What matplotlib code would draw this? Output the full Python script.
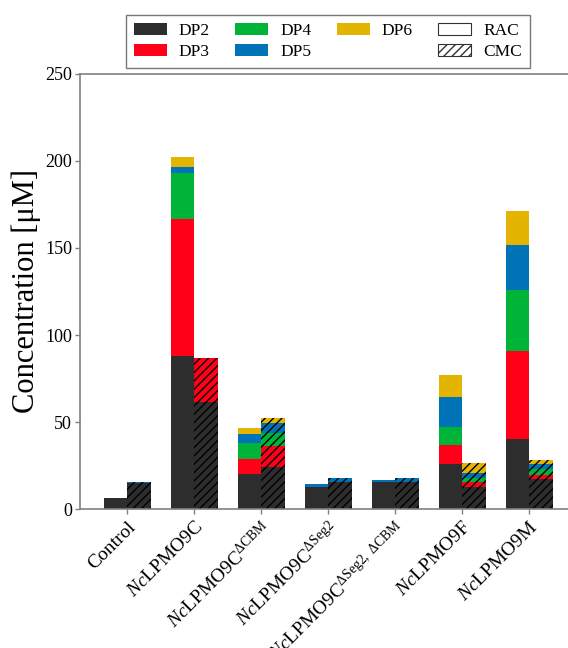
import matplotlib
matplotlib.use("Agg")
import matplotlib.pyplot as plt
from matplotlib.patches import Patch
import numpy as np

# concentrations in uM
samples = ["Control",
           r"$\mathit{Nc}$LPMO9C",
           r"$\mathit{Nc}$LPMO9C$^{\Delta\mathrm{CBM}}$",
           r"$\mathit{Nc}$LPMO9C$^{\Delta\mathrm{Seg2}}$",
           r"$\mathit{Nc}$LPMO9C$^{\Delta\mathrm{Seg2,}\ \Delta\mathrm{CBM}}$",
           r"$\mathit{Nc}$LPMO9F",
           r"$\mathit{Nc}$LPMO9M"]

rac_dp2 = [6.3, 88.0, 20.3, 12.8, 15.7, 26.0, 40.2]
rac_dp3 = [0.0, 78.4, 8.6, 0.0, 0.0, 10.7, 50.8]
rac_dp4 = [0.0, 26.4, 9.0, 0.0, 0.0, 10.3, 34.8]
rac_dp5 = [0.0, 3.8, 5.2, 1.5, 1.2, 17.3, 25.7]
rac_dp6 = [0.0, 5.4, 3.8, 0.0, 0.0, 12.8, 19.5]

cmc_dp2 = [14.9, 61.7, 24.5, 15.7, 15.7, 12.8, 17.4]
cmc_dp3 = [0.0, 25.3, 12.0, 0.0, 0.0, 2.9, 2.3]
cmc_dp4 = [0.0, 0.0, 7.5, 0.0, 0.0, 2.5, 3.2]
cmc_dp5 = [0.8, 0.0, 5.3, 2.3, 2.1, 2.8, 3.3]
cmc_dp6 = [0.0, 0.0, 3.3, 0.0, 0.0, 5.4, 2.1]

dp_names = ["DP2", "DP3", "DP4", "DP5", "DP6"]
dp_colors = ["#2d2d2d", "#ff0018", "#00b43a", "#0073b8", "#e4b500"]

plt.rcParams["font.family"] = ["Liberation Serif", "DejaVu Serif"]
plt.rcParams["mathtext.fontset"] = "custom"
plt.rcParams["mathtext.rm"] = "Liberation Serif"
plt.rcParams["mathtext.it"] = "Liberation Serif:italic"
plt.rcParams["hatch.linewidth"] = 1.0

fig = plt.figure(figsize=(5.68, 6.48), dpi=100)
ax = fig.add_axes([0.1417, 0.2140, 0.873, 0.6725])

x = np.arange(len(samples))
w = 0.35

rac = [rac_dp2, rac_dp3, rac_dp4, rac_dp5, rac_dp6]
cmc = [cmc_dp2, cmc_dp3, cmc_dp4, cmc_dp5, cmc_dp6]

bottom = np.zeros(len(samples))
for vals, col in zip(rac, dp_colors):
    ax.bar(x - w / 2, vals, w, bottom=bottom, color=col, linewidth=0)
    bottom += np.array(vals)

bottom = np.zeros(len(samples))
for vals, col in zip(cmc, dp_colors):
    ax.bar(x + w / 2, vals, w, bottom=bottom, color=col, edgecolor="black",
           linewidth=0, hatch="////")
    bottom += np.array(vals)

ax.set_xlim(-0.7, 6.7)
ax.set_ylim(0, 250)
ax.set_yticks([0, 50, 100, 150, 200, 250])
ax.set_xticks(x)
ax.set_xticklabels(samples, rotation=45, ha="right", rotation_mode="anchor",
                   fontsize=14)
ax.tick_params(axis="y", labelsize=13, length=3.5, width=1, color="#808080", pad=2.5)
ax.tick_params(axis="x", length=3.5, width=1, color="#808080", pad=3)
for s in ax.spines.values():
    s.set_color("#808080")
    s.set_linewidth(1.2)

ax.set_ylabel("Concentration [μM]", fontsize=22, labelpad=3)

handles = [Patch(facecolor=c, label=n) for c, n in zip(dp_colors, dp_names)]
handles.append(Patch(facecolor="none", edgecolor="none", label=" "))
handles.append(Patch(facecolor="white", edgecolor="#333333", linewidth=0.8, label="RAC"))
handles.append(Patch(facecolor="white", edgecolor="#333333", linewidth=0.8,
                     hatch="////", label="CMC"))
leg = fig.legend(handles=handles, ncol=4, loc="upper center",
                 bbox_to_anchor=(0.577, 0.977), borderaxespad=0, fontsize=12.5,
                 frameon=True, fancybox=False, edgecolor="#555555",
                 handlelength=1.9, handleheight=0.7, handletextpad=0.7,
                 columnspacing=1.45, labelspacing=0.3, borderpad=0.45)
leg.get_frame().set_linewidth(1.0)

fig.savefig("out.png", dpi=100)
